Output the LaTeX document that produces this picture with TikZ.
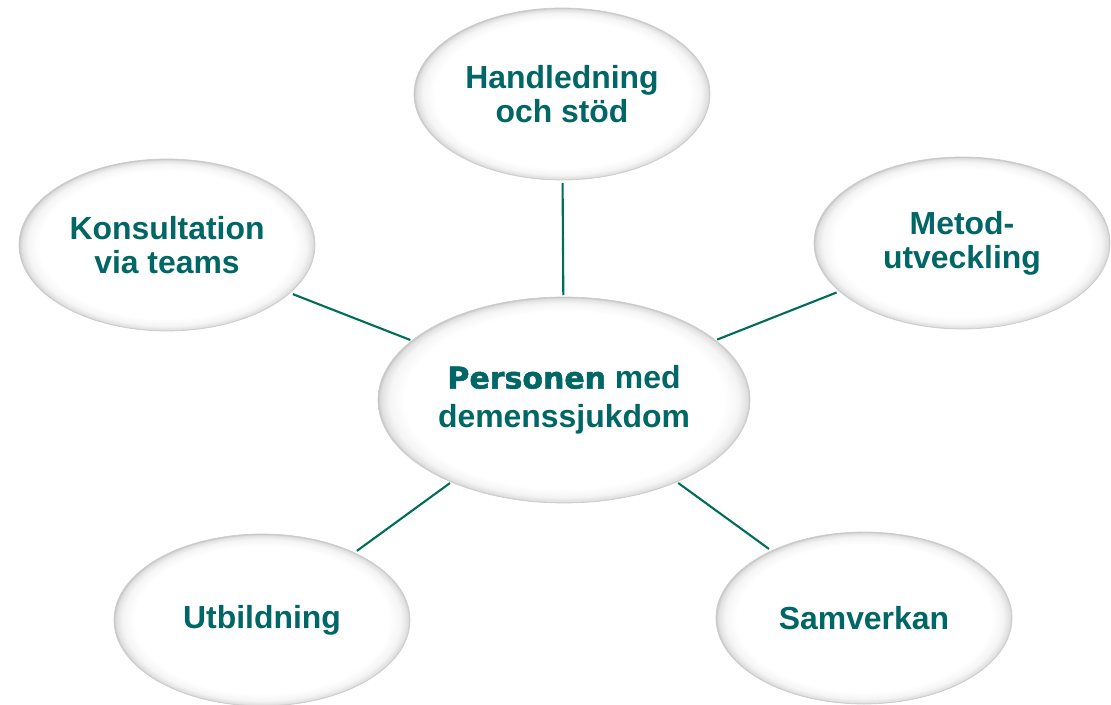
\documentclass[tikz,border=0pt]{standalone}
\usepackage{fontspec}
\setmainfont{Liberation Sans}
\newfontfamily\heavyfont[Scale=0.94,FakeBold=1.6]{DejaVu Sans}
\usepackage{tikz}
\usetikzlibrary{shapes.geometric}

\definecolor{tealtext}{RGB}{0,102,102}
\definecolor{tealline}{RGB}{0,110,86}
\pgfdeclareradialshading{glassy}{\pgfpoint{0bp}{0bp}}{%
  color(0bp)=(white); color(21.5bp)=(white); color(23.5bp)=(black!4);
  color(24.6bp)=(black!12); color(25bp)=(black!22); color(50bp)=(black!22)}

\begin{document}
\begin{tikzpicture}[
    bubble/.style={ellipse, shading=glassy, draw=black!20, line width=0.5pt,
      inner sep=0pt, minimum width=7.4cm, minimum height=4.3cm,
      align=center, text=tealtext,
      font=\fontsize{22.7}{24}\selectfont\bfseries},
    spoke/.style={tealline, line width=1.5pt}
  ]
    % Fix the page size
    \useasboundingbox (0,0) rectangle (27.775,17.6);

    % Draw the outer bubbles
    \node[bubble] (handledning) at (14.05,15.25) {Handledning\\och stöd};
    \node[bubble] (konsultation) at (4.175,11.475) {Konsultation\\via teams};
    \node[bubble] (metod) at (24.05,11.525) {Metod-\\utveckling};
    \node[bubble] (utbildning) at (6.55,2.1) {Utbildning};
    \node[bubble] (samverkan) at (21.6,2.15) {Samverkan};

    % Draw the centre bubble
    \node[bubble, minimum width=9.3cm, minimum height=5.15cm,
      font=\fontsize{22.7}{28}\selectfont\bfseries] (person) at (14.1,7.6)
      {{\heavyfont\bfseries Personen} med\\demenssjukdom};

    % Connect the outer bubbles to the centre
    \foreach \outer in {handledning,konsultation,metod,utbildning,samverkan}
      \draw[spoke, shorten <=2pt, shorten >=1pt] (\outer) -- (person);
\end{tikzpicture}
\end{document}
